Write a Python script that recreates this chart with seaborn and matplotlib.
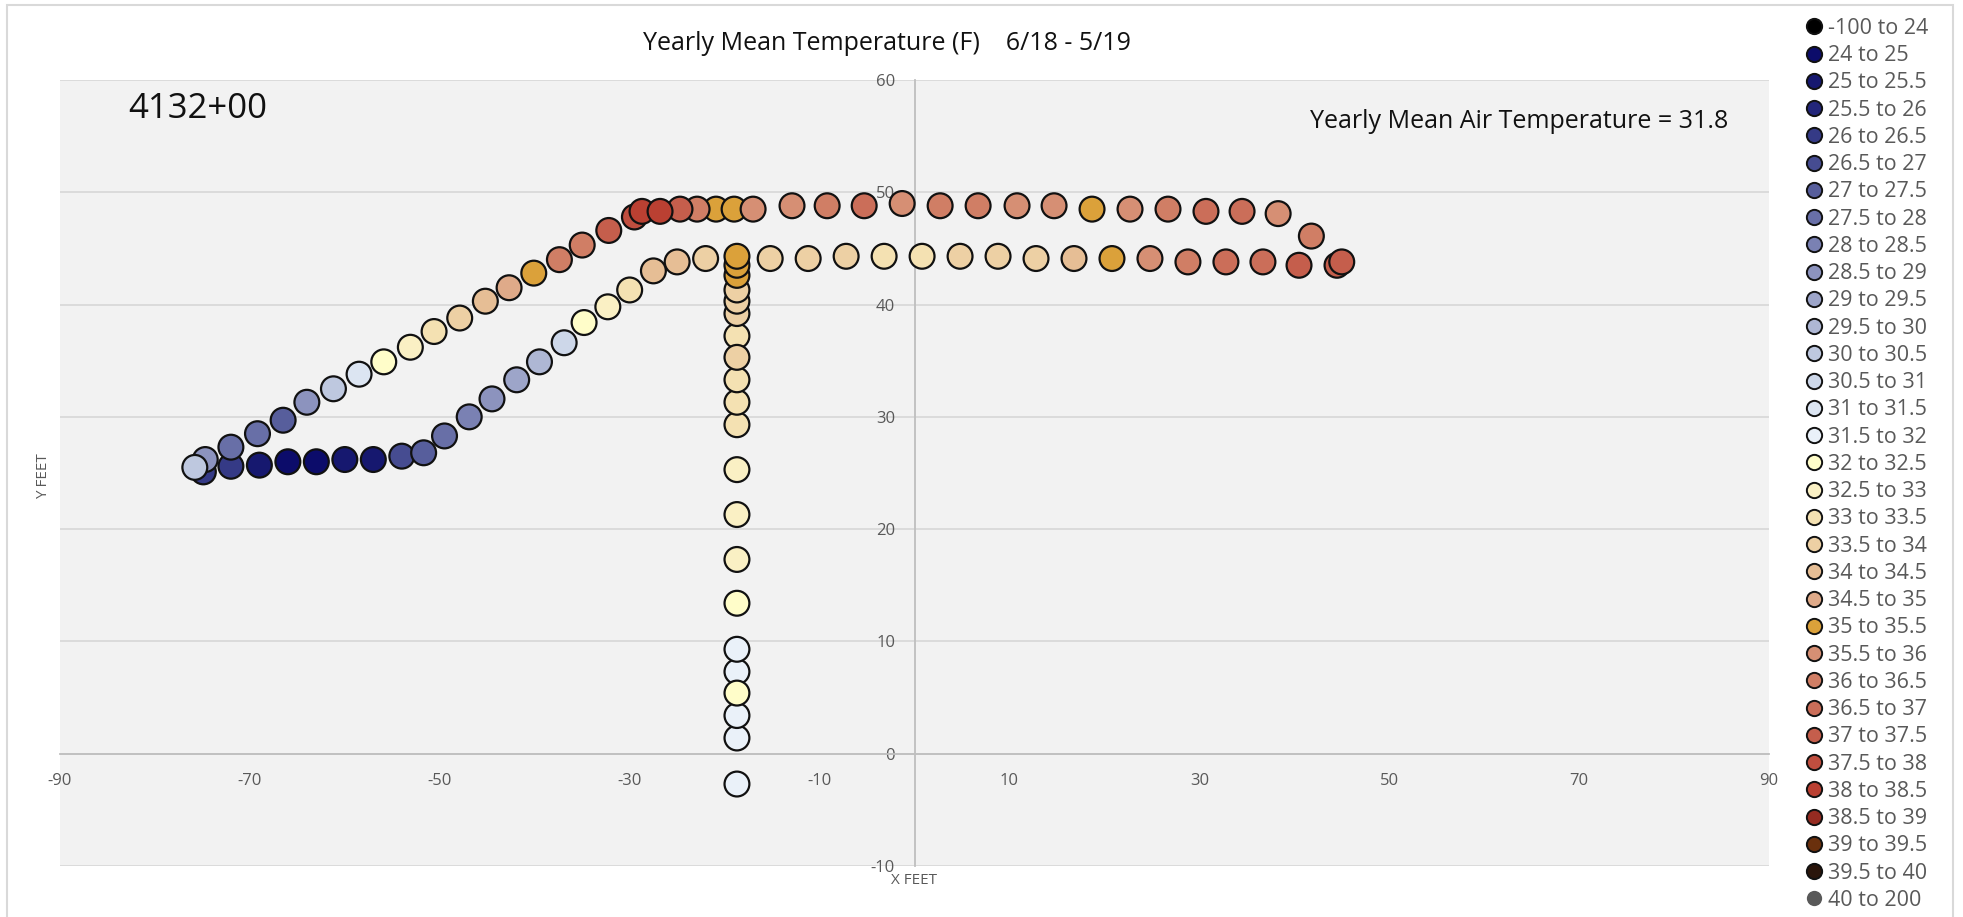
import pandas as pd
import seaborn as sns
import matplotlib.pyplot as plt
from matplotlib.lines import Line2D
from matplotlib.patches import Rectangle

# temperature ranges (F) shown in the legend, with their colours
bin_edges = [-100, 24, 25, 25.5, 26, 26.5, 27, 27.5, 28, 28.5, 29, 29.5, 30, 30.5, 31, 31.5, 32,
             32.5, 33, 33.5, 34, 34.5, 35, 35.5, 36, 36.5, 37, 37.5, 38, 38.5, 39, 39.5, 40, 200]
bin_colors = ["#000000", "#0C0C6A", "#16186F", "#23267A", "#353A86", "#464C91", "#575E9C",
              "#686FA7", "#7A81B3", "#8C93BE", "#9DA5C9", "#AEB7D4", "#BEC8DF", "#CDD7E9",
              "#DCE5F2", "#EAF1F9", "#FFFDC9", "#FAF0C4", "#F4E1B2", "#EDD0A4", "#E6BE95",
              "#DFAA89", "#DBA13A", "#D68F74", "#D07E65", "#CB6E59", "#C55E4C", "#C04E3F",
              "#BA4032", "#952B21", "#6A300D", "#2A150B", "#595959"]
bin_labels = [f"{lo:g} to {hi:g}" for lo, hi in zip(bin_edges[:-1], bin_edges[1:])]

# inner (lower) boundary sensors
lower_x = [-75.8, -74.9, -72.0, -69.0, -66.0, -63.0, -60.0, -57.0, -54.0, -51.7, -49.5, -46.9,
           -44.5, -41.9, -39.5, -36.9, -34.8, -32.3, -30.0, -27.5, -25.0, -22.0, -15.2, -11.2,
           -7.2, -3.2, 0.8, 4.8, 8.8, 12.8, 16.8, 20.8, 24.8, 28.8, 32.8, 36.7, 40.5, 44.5]
lower_y = [25.5, 25.1, 25.6, 25.7, 26.0, 26.0, 26.2, 26.2, 26.5, 26.8, 28.3, 30.0,
           31.6, 33.3, 34.9, 36.6, 38.4, 39.8, 41.3, 43.0, 43.8, 44.1, 44.1, 44.1,
           44.3, 44.3, 44.3, 44.3, 44.3, 44.1, 44.1, 44.1, 44.1, 43.8, 43.8, 43.8, 43.5, 43.5]
lower_t = [30.2, 26.2, 26.2, 25.2, 24.5, 24.5, 25.2, 25.2, 26.7, 27.2, 27.7, 28.2,
           28.7, 29.2, 29.7, 30.7, 32.2, 32.7, 33.2, 34.2, 34.2, 33.7, 33.7, 33.7,
           33.7, 33.2, 33.2, 33.7, 33.7, 33.7, 34.2, 35.2, 35.7, 36.2, 36.7, 36.7, 37.2, 37.2]

# outer (upper) boundary sensors
upper_x = [-74.7, -72.0, -69.2, -66.5, -64.0, -61.2, -58.5, -55.9, -53.1, -50.6, -47.9, -45.2,
           -42.7, -40.1, -37.4, -35.0, -32.2, -29.5, -28.7, -26.8, -24.7, -22.9, -20.9, -19.0,
           -17.0, -12.9, -9.2, -5.3, -1.3, 2.7, 6.7, 10.8, 14.7, 18.7, 22.7, 26.7, 30.7, 34.5,
           38.3, 41.8, 45.0]
upper_y = [26.2, 27.3, 28.5, 29.7, 31.3, 32.5, 33.8, 34.9, 36.2, 37.6, 38.8, 40.3,
           41.5, 42.8, 44.0, 45.3, 46.6, 47.8, 48.3, 48.3, 48.5, 48.5, 48.5, 48.5,
           48.5, 48.8, 48.8, 48.8, 49.0, 48.8, 48.8, 48.8, 48.8, 48.5, 48.5, 48.5, 48.3, 48.3,
           48.1, 46.1, 43.8]
upper_t = [28.7, 27.7, 27.7, 27.2, 28.7, 30.2, 31.2, 32.2, 32.7, 33.2, 33.7, 34.2,
           34.7, 35.2, 36.2, 36.2, 37.2, 37.7, 38.2, 38.2, 37.2, 36.2, 35.2, 35.2,
           35.7, 35.7, 36.2, 36.7, 35.7, 36.2, 36.2, 35.7, 35.7, 35.2, 35.7, 36.2, 36.7, 36.7,
           35.7, 36.2, 37.2]

# vertical sensor string
column_x = [-18.7] * 21
column_y = [-2.7, 1.4, 3.4, 5.4, 7.3, 9.3, 13.4, 17.3, 21.3, 25.3, 29.3, 31.3, 33.3, 35.3,
            37.2, 39.2, 40.3, 41.3, 42.6, 43.5, 44.3]
column_t = [31.7, 31.7, 31.7, 32.2, 31.7, 31.7, 32.2, 32.7, 32.7, 32.7, 33.2, 33.2, 33.2, 33.7,
            33.2, 33.7, 33.7, 33.7, 35.2, 35.2, 35.2]

x_ticks = [-90, -70, -50, -30, -10, 10, 30, 50, 70, 90]
y_ticks = [-10, 0, 10, 20, 30, 40, 50, 60]

df = pd.DataFrame({
    "x": lower_x + upper_x + column_x,
    "y": lower_y + upper_y + column_y,
    "temp": lower_t + upper_t + column_t,
})
df["range"] = pd.cut(df["temp"], bins=bin_edges, labels=bin_labels, right=False)
df = df.sort_values("temp", kind="stable")

sns.set_theme(style="white")
plt.rcParams["font.family"] = ["Open Sans", "DejaVu Sans"]
plt.rcParams["axes.unicode_minus"] = False

fig = plt.figure(figsize=(19.63, 9.17), dpi=100)
ax = fig.add_axes([60 / 1963, 1 - 866 / 917, 1709 / 1963, 786 / 917])
ax.set_facecolor("#F2F2F2")

sns.scatterplot(data=df, x="x", y="y", hue="range", hue_order=bin_labels,
                palette=dict(zip(bin_labels, bin_colors)), s=320,
                edgecolor="#111111", linewidth=1.6, legend=False, ax=ax, zorder=3)

ax.set_xlim(-90, 90)
ax.set_ylim(-10, 60)
ax.set_xticks(x_ticks)
ax.set_yticks(y_ticks)
ax.grid(axis="y", color="#D9D9D9", linewidth=1.3, zorder=0)
ax.grid(axis="x", visible=False)
ax.spines["left"].set_position(("data", 0))
ax.spines["bottom"].set_position(("data", 0))
ax.spines["left"].set_color("#BFBFBF")
ax.spines["bottom"].set_color("#BFBFBF")
ax.spines["left"].set_linewidth(1.3)
ax.spines["bottom"].set_linewidth(1.3)
ax.spines["top"].set_visible(False)
ax.spines["right"].set_visible(False)
ax.tick_params(axis="both", length=0, labelsize=12, labelcolor="#595959")
ax.tick_params(axis="x", pad=14)
ax.tick_params(axis="y", pad=14)
ax.set_xlabel("")
ax.set_ylabel("")

ax.text(0.040, 0.963, "4132+00", transform=ax.transAxes, fontsize=25,
        ha="left", va="center", color="#111111")
ax.text(0.976, 0.947, "Yearly Mean Air Temperature = 31.8", transform=ax.transAxes,
        fontsize=18, ha="right", va="center", color="#111111")

fig.text(887 / 1963, 1 - 44 / 917, "Yearly Mean Temperature (F)    6/18 - 5/19",
         fontsize=18, ha="center", va="center", color="#111111")
fig.text(914 / 1963, 1 - 880 / 917, "X FEET", fontsize=11, ha="center", va="center",
         color="#595959")
fig.text(44 / 1963, 1 - 476 / 917, "Y FEET", fontsize=11, ha="center", va="center",
         rotation=90, color="#595959")

# chart border
fig.patches.append(Rectangle((7 / 1963, -0.02), 1946 / 1963, 1.02 - 5 / 917,
                             transform=fig.transFigure, fill=False,
                             edgecolor="#D9D9D9", linewidth=1.5))

handles = [Line2D([0], [0], marker="o", linestyle="", markersize=11,
                  markerfacecolor=c, markeredgecolor="none" if lab == "40 to 200" else "#111111",
                  markeredgewidth=1.4)
           for c, lab in zip(bin_colors, bin_labels)]
fig.legend(handles, bin_labels, loc="upper left", bbox_to_anchor=(1803 / 1963, 1 - 18 / 917),
           frameon=False, fontsize=15.5, labelcolor="#595959", labelspacing=0.29,
           handletextpad=0.15, handlelength=1.0, borderaxespad=0, borderpad=0)

fig.savefig("out.png", dpi=100)
